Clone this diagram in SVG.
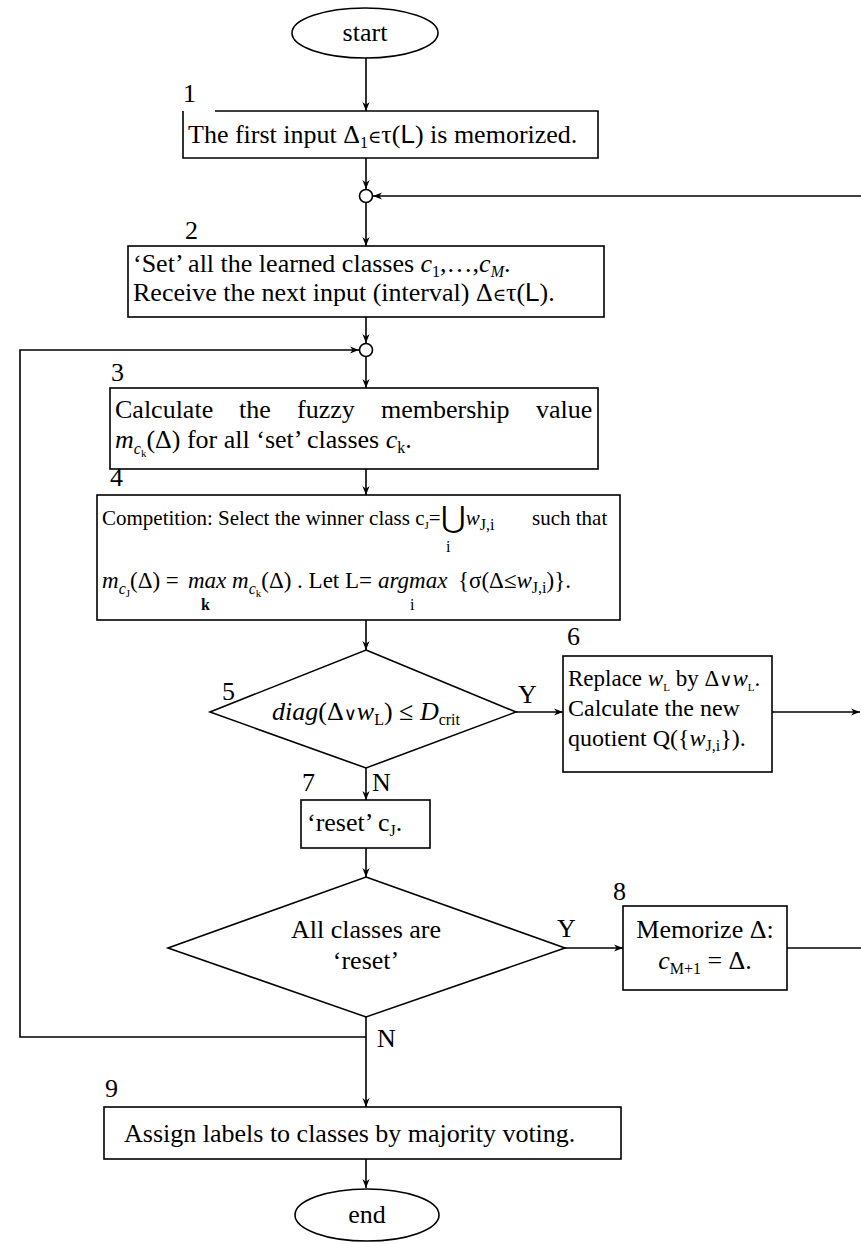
<svg xmlns="http://www.w3.org/2000/svg" width="861" height="1244" viewBox="0 0 861 1244">
<defs>
<style>
text{font-family:"Liberation Serif","Times New Roman",serif;font-size:26px;fill:#000}
.b4{font-size:21px}
.b4b{font-size:23px}
.b6{font-size:24px}
.i{font-style:italic}
.s{font-size:16px}
.ss{font-size:11px}
.sym{font-family:"DejaVu Serif","Liberation Serif",serif;font-size:18px}
.sans{font-family:"Liberation Sans",Arial,sans-serif}
.shape{fill:#fff;stroke:#000;stroke-width:1.6}
.con{fill:none;stroke:#000;stroke-width:1.6}
.mid{text-anchor:middle}
</style>
<marker id="ah" viewBox="0 0 10 10" refX="10" refY="5" markerWidth="9" markerHeight="9" markerUnits="userSpaceOnUse" orient="auto">
<path d="M0,1 L10,5 L0,9 L3,5 z" fill="#000"/>
</marker>
</defs>
<rect width="861" height="1244" fill="#fff"/>

<g id="connectors">
<line class="con" x1="366" y1="58" x2="366" y2="111" marker-end="url(#ah)"/>
<line class="con" x1="366" y1="158" x2="366" y2="189" marker-end="url(#ah)"/>
<line class="con" x1="861" y1="196" x2="373" y2="196" marker-end="url(#ah)"/>
<line class="con" x1="366" y1="203" x2="366" y2="246" marker-end="url(#ah)"/>
<line class="con" x1="366" y1="317" x2="366" y2="343" marker-end="url(#ah)"/>
<polyline class="con" points="366,1037 20,1037 20,350 359,350" marker-end="url(#ah)"/>
<line class="con" x1="366" y1="357" x2="366" y2="388" marker-end="url(#ah)"/>
<line class="con" x1="366" y1="469" x2="366" y2="495" marker-end="url(#ah)"/>
<line class="con" x1="366" y1="620" x2="366" y2="650" marker-end="url(#ah)"/>
<line class="con" x1="516" y1="712" x2="563" y2="712" marker-end="url(#ah)"/>
<line class="con" x1="772" y1="712" x2="860" y2="712" marker-end="url(#ah)"/>
<line class="con" x1="366" y1="768" x2="366" y2="800" marker-end="url(#ah)"/>
<line class="con" x1="366" y1="848" x2="366" y2="877" marker-end="url(#ah)"/>
<line class="con" x1="565" y1="948" x2="623" y2="948" marker-end="url(#ah)"/>
<line class="con" x1="787" y1="948" x2="861" y2="948"/>
<line class="con" x1="366" y1="1017" x2="366" y2="1107" marker-end="url(#ah)"/>
<line class="con" x1="366" y1="1159" x2="366" y2="1188" marker-end="url(#ah)"/>
<text x="518" y="703">Y</text>
<text x="372" y="791">N</text>
<text x="557" y="937">Y</text>
<text x="377" y="1047">N</text>
</g>

<g id="start">
<ellipse class="shape" cx="365" cy="33" rx="73" ry="25"/>
<text class="mid" x="365" y="41">start</text>
</g>

<g id="junctionA"><circle class="shape" cx="366" cy="196" r="6.5"/></g>
<g id="junctionB"><circle class="shape" cx="366" cy="350" r="6.5"/></g>

<g id="n1">
<text x="183" y="102">1</text>
<path class="shape" d="M215,111 H598 V158 H183 V111"/>
<text x="188" y="143">The first input Δ<tspan class="s" dy="5">1</tspan><tspan class="sym" dy="-5">∈</tspan>τ(<tspan class="sans">L</tspan>) is memorized.</text>
</g>

<g id="n2">
<text x="185" y="239">2</text>
<rect class="shape" x="128" y="246" width="476" height="71"/>
<text x="133" y="272">‘Set’ all the learned classes <tspan class="i">c</tspan><tspan class="s" dy="5">1</tspan><tspan dy="-5">,…,</tspan><tspan class="i">c</tspan><tspan class="s i" dy="5">M</tspan><tspan dy="-5">.</tspan></text>
<text x="133" y="301">Receive the next input (interval) Δ<tspan class="sym">∈</tspan>τ(<tspan class="sans">L</tspan>).</text>
</g>

<g id="n3">
<text x="111" y="381">3</text>
<rect class="shape" x="110" y="388" width="488" height="81"/>
<text y="418"><tspan x="115">Calculate</tspan><tspan x="239">the</tspan><tspan x="297">fuzzy</tspan><tspan x="381">membership</tspan><tspan x="536">value</tspan></text>
<text x="115" y="448"><tspan class="i">m</tspan><tspan class="i s" dy="6">c</tspan><tspan class="ss" dy="3">k</tspan><tspan dy="-9">(Δ) for all ‘set’ classes </tspan><tspan class="i">c</tspan><tspan class="s" dy="5">k</tspan><tspan dy="-5">.</tspan></text>
</g>

<g id="n4">
<text x="110" y="486">4</text>
<rect class="shape" x="97" y="495" width="523" height="125"/>
<text class="b4" x="102" y="525">Competition: Select the winner class c<tspan class="ss" dy="4">J</tspan><tspan dy="-4">=</tspan><tspan font-size="30px" dy="3">⋃</tspan><tspan class="i" dy="-3">w</tspan><tspan class="s" dy="5">J,i</tspan></text>
<text class="b4" x="532" y="525">such that</text>
<text class="s" x="446" y="552">i</text>
<text class="b4b" x="102" y="588"><tspan class="i">m</tspan><tspan class="i s" dy="6">c</tspan><tspan class="ss" dy="3">J</tspan><tspan dy="-9">(Δ) =</tspan></text>
<text class="b4b i" x="188" y="588">max</text>
<text class="b4b" x="232" y="588"><tspan class="i">m</tspan><tspan class="i s" dy="6">c</tspan><tspan class="ss" dy="3">k</tspan><tspan dy="-9">(Δ) . Let L=</tspan></text>
<text class="b4b i" x="378" y="588">argmax</text>
<text class="b4b" x="458" y="588">{σ(Δ≤<tspan class="i">w</tspan><tspan class="s" dy="5">J,i</tspan><tspan dy="-5">)}.</tspan></text>
<text class="s" x="201" y="610" font-weight="bold">k</text>
<text class="s" x="410" y="610">i</text>
</g>

<g id="n5">
<text x="222" y="700">5</text>
<polygon class="shape" points="366,650 516,712 366,768 210,712"/>
<text class="mid" x="366" y="720"><tspan class="i">diag</tspan>(Δ<tspan class="sym">∨</tspan><tspan class="i">w</tspan><tspan class="s" dy="5">L</tspan><tspan dy="-5">) ≤ </tspan><tspan class="i">D</tspan><tspan class="s" dy="5">crit</tspan></text>
</g>

<g id="n6">
<text x="567" y="645">6</text>
<rect class="shape" x="563" y="656" width="209" height="116"/>
<text class="b4b" x="568" y="686">Replace <tspan class="i">w</tspan><tspan class="ss" dy="5">L</tspan><tspan dy="-5"> by Δ</tspan><tspan class="sym">∨</tspan><tspan class="i">w</tspan><tspan class="ss" dy="5">L</tspan><tspan dy="-5">.</tspan></text>
<text class="b6" x="568" y="716">Calculate the new</text>
<text class="b6" x="568" y="746">quotient Q({<tspan class="i">w</tspan><tspan class="s" dy="5">J,i</tspan><tspan dy="-5">}).</tspan></text>
</g>

<g id="n7">
<text x="302" y="791">7</text>
<rect class="shape" x="301" y="800" width="129" height="48"/>
<text x="307" y="831">‘reset’ c<tspan class="s" dy="5">J</tspan><tspan dy="-5">.</tspan></text>
</g>

<g id="n8d">
<polygon class="shape" points="366,877 565,948 366,1017 168,948"/>
<text class="mid" x="366" y="938">All classes are</text>
<text class="mid" x="366" y="969">‘reset’</text>
</g>

<g id="n8">
<text x="613" y="900">8</text>
<rect class="shape" x="623" y="906" width="164" height="84"/>
<text class="mid" x="705" y="938">Memorize Δ:</text>
<text class="mid" x="705" y="969"><tspan class="i">c</tspan><tspan class="s" dy="5">M+1</tspan><tspan dy="-5"> = Δ.</tspan></text>
</g>

<g id="n9">
<text x="105" y="1097">9</text>
<rect class="shape" x="104" y="1107" width="517" height="52"/>
<text x="124" y="1142">Assign labels to classes by majority voting.</text>
</g>

<g id="end">
<ellipse class="shape" cx="367" cy="1215" rx="72" ry="26"/>
<text class="mid" x="367" y="1223">end</text>
</g>
</svg>
